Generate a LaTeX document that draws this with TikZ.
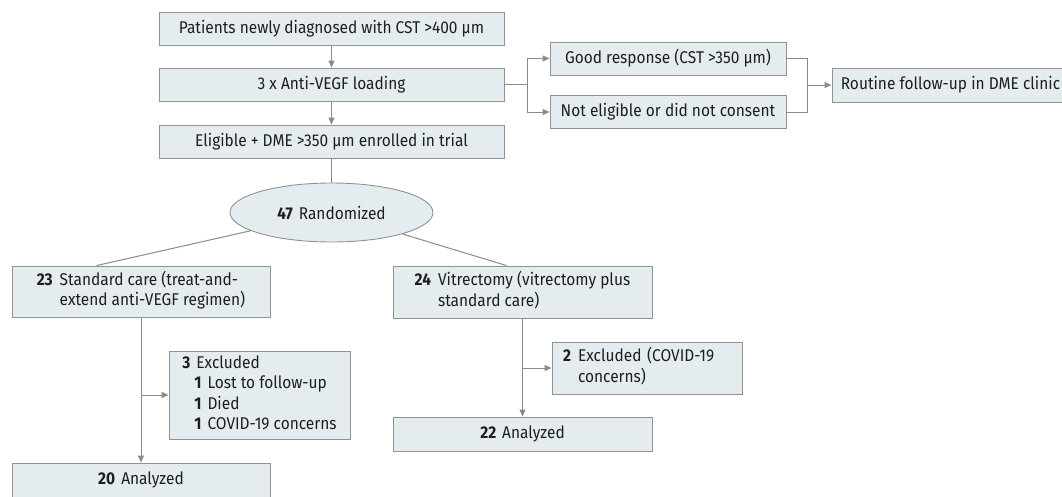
\documentclass[tikz,border=0pt]{standalone}
\usepackage{fontspec}
\setmainfont{Fira Sans}[FakeStretch=0.91]
\usetikzlibrary{arrows.meta,calc,shapes.geometric}

\definecolor{boxfill}{HTML}{E5ECF0}
\definecolor{boxline}{HTML}{8E9396}
\definecolor{linkgray}{HTML}{8A8A8A}
\definecolor{ink}{HTML}{1E1E1E}

% bold count followed by its label
\newcommand{\cnt}[1]{\textbf{#1}\hspace{6pt}}

\begin{document}
\begin{tikzpicture}[x=1pt,y=-1pt,
  box/.style={draw=boxline, fill=boxfill, line width=0.9pt, inner sep=0pt,
    text=ink, font=\fontsize{17}{20.5}\selectfont},
  conn/.style={draw=linkgray, line width=1pt},
  arr/.style={conn, -{Triangle[length=7pt,width=6pt]}}
]
\useasboundingbox (0,0) rectangle (1062,496);

% screening stage
\node[box, minimum width=345pt, minimum height=33pt] (pat) at (331.5,28.5)
  {Patients newly diagnosed with CST >400 µm};
\node[box, minimum width=345pt, minimum height=33pt] (load) at (331.5,84.5)
  {3 x Anti-VEGF loading};
\node[box, minimum width=345pt, minimum height=33pt] (elig) at (331.5,141.5)
  {Eligible + DME >350 µm enrolled in trial};

\node[box, minimum width=236pt, minimum height=33pt] (good) at (668,58.5)
  {Good response (CST >350 µm)};
\node[box, minimum width=236pt, minimum height=33pt] (noel) at (668,112)
  {Not eligible or did not consent};
\node[box, minimum width=237pt, minimum height=34pt] (rout) at (950.5,85)
  {Routine follow-up in DME clinic};

% randomization
\node[box, ellipse, minimum width=203pt, minimum height=59pt] (rand) at (331.5,212.5)
  {\cnt{47}Randomized};

% study arms
\node[box, minimum width=258pt, minimum height=51pt] (std) at (141,291.5)
  {\begin{tabular}{@{}l@{\hspace{7pt}}l@{}}\textbf{23}&Standard care (treat-and-\\&extend anti-VEGF regimen)\end{tabular}};
\node[box, minimum width=259pt, minimum height=52pt] (vit) at (522.5,292)
  {\begin{tabular}{@{}l@{\hspace{7pt}}l@{}}\textbf{24}&Vitrectomy (vitrectomy plus\\&standard care)\end{tabular}};

\node[box, minimum width=181pt, minimum height=88pt] (exl) at (259.5,395)
  {\begin{tabular}{@{}l@{}}\cnt{3}Excluded\\
   \hspace*{12pt}\cnt{1}Lost to follow-up\\
   \hspace*{12pt}\cnt{1}Died\\
   \hspace*{12pt}\cnt{1}COVID-19 concerns\end{tabular}};
\node[box, minimum width=190pt, minimum height=52pt, text width=168pt,
  align=left, inner xsep=11pt] (exr) at (647,368)
  {\begin{tabular}{@{}l@{\hspace{7pt}}l@{}}\textbf{2}&Excluded (COVID-19\\&concerns)\end{tabular}};

\node[box, minimum width=258pt, minimum height=34pt] (ana20) at (141,480)
  {\cnt{20}Analyzed};
\node[box, minimum width=259pt, minimum height=34pt] (ana22) at (522.5,434)
  {\cnt{22}Analyzed};

% connectors
\draw[arr] (pat) -- (load);
\draw[arr] (load) -- (elig);
\draw[conn] (elig) -- (rand);

\coordinate (j1) at ($(load.east)+(23,0)$);
\draw[conn] (load.east) -- (j1);
\draw[arr] (j1) |- (good.west);
\draw[arr] (j1) |- (noel.west);

\coordinate (j2) at ($(rout.west)+(-24,0)$);
\draw[conn] (good.east) -| (j2);
\draw[conn] (noel.east) -| (j2);
\draw[arr] (j2) -- (rout.west);

\draw[conn] (rand) -- ($(std.north west)+(85,0)$);
\draw[conn] (rand) -- ($(vit.north west)+(114,0)$);

\draw[arr] (std) -- (ana20);
\coordinate (b1) at (std.south |- exl.west);
\draw[arr] (b1) -- (exl.west);

\draw[arr] (vit) -- (ana22);
\coordinate (b2) at (vit.south |- exr.west);
\draw[arr] (b2) -- (exr.west);
\end{tikzpicture}
\end{document}
